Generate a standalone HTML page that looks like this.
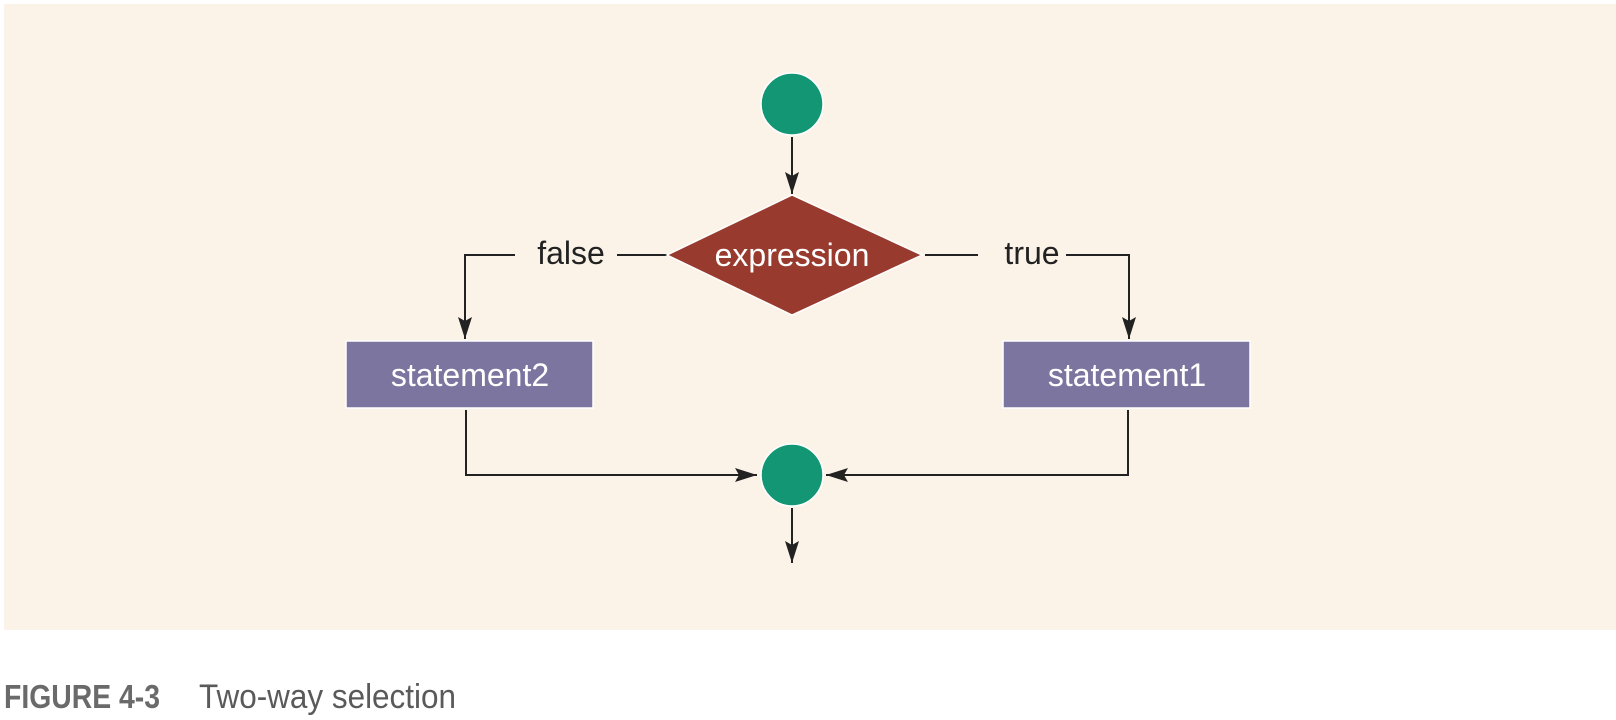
<!DOCTYPE html>
<html><head><meta charset="utf-8"><style>
html,body{margin:0;padding:0;background:#fff;width:1616px;height:720px;overflow:hidden}
svg{display:block}
</style></head><body>
<svg width="1616" height="720" viewBox="0 0 1616 720" xmlns="http://www.w3.org/2000/svg">
<defs>
<marker id="a" viewBox="0 0 22 14" refX="22" refY="7" markerWidth="22" markerHeight="14" markerUnits="userSpaceOnUse" orient="auto"><path d="M0,0 L22,7 L0,14 L4,7 Z" fill="#222"/></marker>
</defs>
<rect x="4" y="4" width="1612" height="626" fill="#fcf3e8"/>
<g stroke="#222" stroke-width="2" fill="none">
<line x1="792" y1="137" x2="792" y2="194" marker-end="url(#a)"/>
<polyline points="515,255 465,255 465,339" marker-end="url(#a)"/>
<line x1="617" y1="255" x2="667" y2="255"/>
<line x1="925" y1="255" x2="978" y2="255"/>
<polyline points="1066,255 1129,255 1129,339" marker-end="url(#a)"/>
<polyline points="466,410 466,475 757,475" marker-end="url(#a)"/>
<polyline points="1128,410 1128,475 826,475" marker-end="url(#a)"/>
<line x1="792" y1="508" x2="792" y2="563" marker-end="url(#a)"/>
</g>
<circle cx="792" cy="104" r="31" fill="#139673" stroke="#fff" stroke-width="1.5"/>
<circle cx="792" cy="475" r="31" fill="#139673" stroke="#fff" stroke-width="1.5"/>
<polygon points="792,195 922,255 792,315 667,255" fill="#983a2d" stroke="#fff" stroke-width="1.5"/>
<rect x="346" y="341" width="247" height="67" fill="#7c75a0" stroke="#fff" stroke-width="1.5"/>
<rect x="1003" y="341" width="247" height="67" fill="#7c75a0" stroke="#fff" stroke-width="1.5"/>
<g font-family="Liberation Sans, sans-serif" font-size="32" text-anchor="middle">
<text x="792" y="266" fill="#fff">expression</text>
<text x="470" y="386" fill="#fff">statement2</text>
<text x="1127" y="386" fill="#fff">statement1</text>
<text x="571" y="264" fill="#222">false</text>
<text x="1032" y="264" fill="#222">true</text>
</g>
<text x="4" y="708" font-family="Liberation Sans Narrow, Liberation Sans, sans-serif" font-size="33" font-weight="bold" fill="#6a6a6a" textLength="156" lengthAdjust="spacingAndGlyphs">FIGURE 4-3</text>
<text x="199" y="708" font-family="Liberation Sans Narrow, Liberation Sans, sans-serif" font-size="34" fill="#5a5a5a" textLength="257" lengthAdjust="spacingAndGlyphs">Two-way selection</text>
</svg>
</body></html>
